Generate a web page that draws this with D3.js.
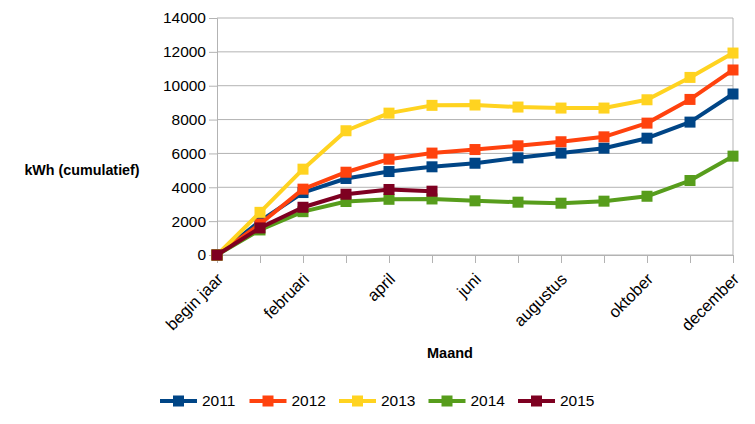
<!DOCTYPE html>
<html>
<head>
<meta charset="utf-8">
<script src="https://cdn.jsdelivr.net/npm/d3@7"></script>
<style>
  body { margin: 0; background: #fff; }
  svg text { font-family: "Liberation Sans", Arial, sans-serif; }
</style>
</head>
<body>
<div id="chart"></div>
<script>
// Months (x categories) and tick labels
const months = ["begin jaar", "januari", "februari", "maart", "april", "mei", "juni",
    "juli", "augustus", "september", "oktober", "november", "december"];
const shownLabels = ["begin jaar", "februari", "april", "juni", "augustus", "oktober", "december"];
const yTicks = [0, 2000, 4000, 6000, 8000, 10000, 12000, 14000];

// Cumulative kWh per year
const years = ["2011", "2012", "2013", "2014", "2015"];
const values2011 = [0, 2000, 3690, 4520, 4930, 5210, 5420, 5740, 6020, 6310, 6900, 7850, 9510];
const values2012 = [0, 1830, 3890, 4890, 5660, 6020, 6230, 6450, 6690, 6980, 7790, 9190, 10930];
const values2013 = [0, 2520, 5070, 7340, 8380, 8840, 8860, 8740, 8680, 8680, 9170, 10490, 11930];
const values2014 = [0, 1480, 2560, 3160, 3290, 3310, 3200, 3120, 3060, 3180, 3470, 4400, 5840];
const values2015 = [0, 1600, 2820, 3590, 3870, 3770];
const colors = ["#004586", "#ff420e", "#ffd320", "#579d1c", "#7e0021"];

const series = [values2011, values2012, values2013, values2014, values2015].map(function (v, i) {
    return { name: years[i], color: colors[i], values: v };
});

const width = 755, height = 424;
const margin = { left: 217, right: 22, top: 18, bottom: 169 };

const svg = d3.select("#chart").append("svg")
    .attr("width", width)
    .attr("height", height);

const x = d3.scalePoint()
    .domain(months)
    .range([margin.left, width - margin.right]);

const y = d3.scaleLinear()
    .domain([0, 14000])
    .range([height - margin.bottom, margin.top]);

// Horizontal gridlines
svg.append("g")
    .selectAll("line")
    .data(yTicks)
    .enter().append("line")
    .attr("x1", margin.left)
    .attr("x2", width - margin.right)
    .attr("y1", d => y(d))
    .attr("y2", d => y(d))
    .attr("stroke", "#b3b3b3")
    .attr("stroke-width", 1);

// Right frame line
svg.append("line")
    .attr("x1", width - margin.right).attr("x2", width - margin.right)
    .attr("y1", y(14000)).attr("y2", y(0))
    .attr("stroke", "#b3b3b3");

// Y axis
const yAxis = svg.append("g")
    .attr("transform", `translate(${margin.left},0)`)
    .call(d3.axisLeft(y).tickValues(yTicks).tickFormat(d3.format("d")).tickSize(8).tickPadding(3));
yAxis.select(".domain").attr("stroke", "#b3b3b3");
yAxis.selectAll(".tick line").attr("stroke", "#b3b3b3");
yAxis.selectAll(".tick text")
    .attr("font-size", "15.5px")
    .attr("fill", "#000")
    .style("font-family", "Liberation Sans, Arial, sans-serif");

// X axis
const xAxis = svg.append("g")
    .attr("transform", `translate(0,${y(0)})`)
    .call(d3.axisBottom(x).tickSize(8).tickFormat(""));
xAxis.select(".domain").attr("stroke", "#b3b3b3");
xAxis.selectAll(".tick line").attr("stroke", "#b3b3b3");

svg.append("g")
    .selectAll("text")
    .data(shownLabels)
    .enter().append("text")
    .attr("transform", d => `translate(${x(d) + 3},${y(0) + 21}) rotate(-45)`)
    .attr("text-anchor", "end")
    .attr("dy", "0.35em")
    .attr("font-size", "16.5px")
    .attr("fill", "#000")
    .text(d => d);

// Axis titles
svg.append("text")
    .attr("x", 82)
    .attr("y", 175)
    .attr("text-anchor", "middle")
    .attr("font-size", "14.3px")
    .attr("font-weight", "bold")
    .text("kWh (cumulatief)");

svg.append("text")
    .attr("x", 450)
    .attr("y", 358)
    .attr("text-anchor", "middle")
    .attr("font-size", "14.5px")
    .attr("font-weight", "bold")
    .text("Maand");

// Lines and markers
const line = d3.line()
    .x((d, i) => x(months[i]))
    .y(d => y(d));

series.forEach(function (s) {
    const g = svg.append("g");
    g.append("path")
        .datum(s.values)
        .attr("d", line)
        .attr("fill", "none")
        .attr("stroke", s.color)
        .attr("stroke-width", 4)
        .attr("stroke-linejoin", "round");
    g.selectAll("rect")
        .data(s.values)
        .enter().append("rect")
        .attr("x", (d, i) => x(months[i]) - 5.5)
        .attr("y", d => y(d) - 5.5)
        .attr("width", 11)
        .attr("height", 11)
        .attr("fill", s.color);
});

// Legend
const legend = svg.append("g")
    .attr("transform", "translate(160,401)");

series.forEach(function (s, i) {
    const item = legend.append("g").attr("transform", `translate(${i * 89.5},0)`);
    item.append("line")
        .attr("x1", 0).attr("x2", 37)
        .attr("y1", 0).attr("y2", 0)
        .attr("stroke", s.color)
        .attr("stroke-width", 4);
    item.append("rect")
        .attr("x", 13).attr("y", -5.5)
        .attr("width", 11).attr("height", 11)
        .attr("fill", s.color);
    item.append("text")
        .attr("x", 42)
        .attr("y", 0)
        .attr("dy", "0.35em")
        .attr("font-size", "15.5px")
        .attr("fill", "#000")
        .text(s.name);
});
</script>
</body>
</html>
